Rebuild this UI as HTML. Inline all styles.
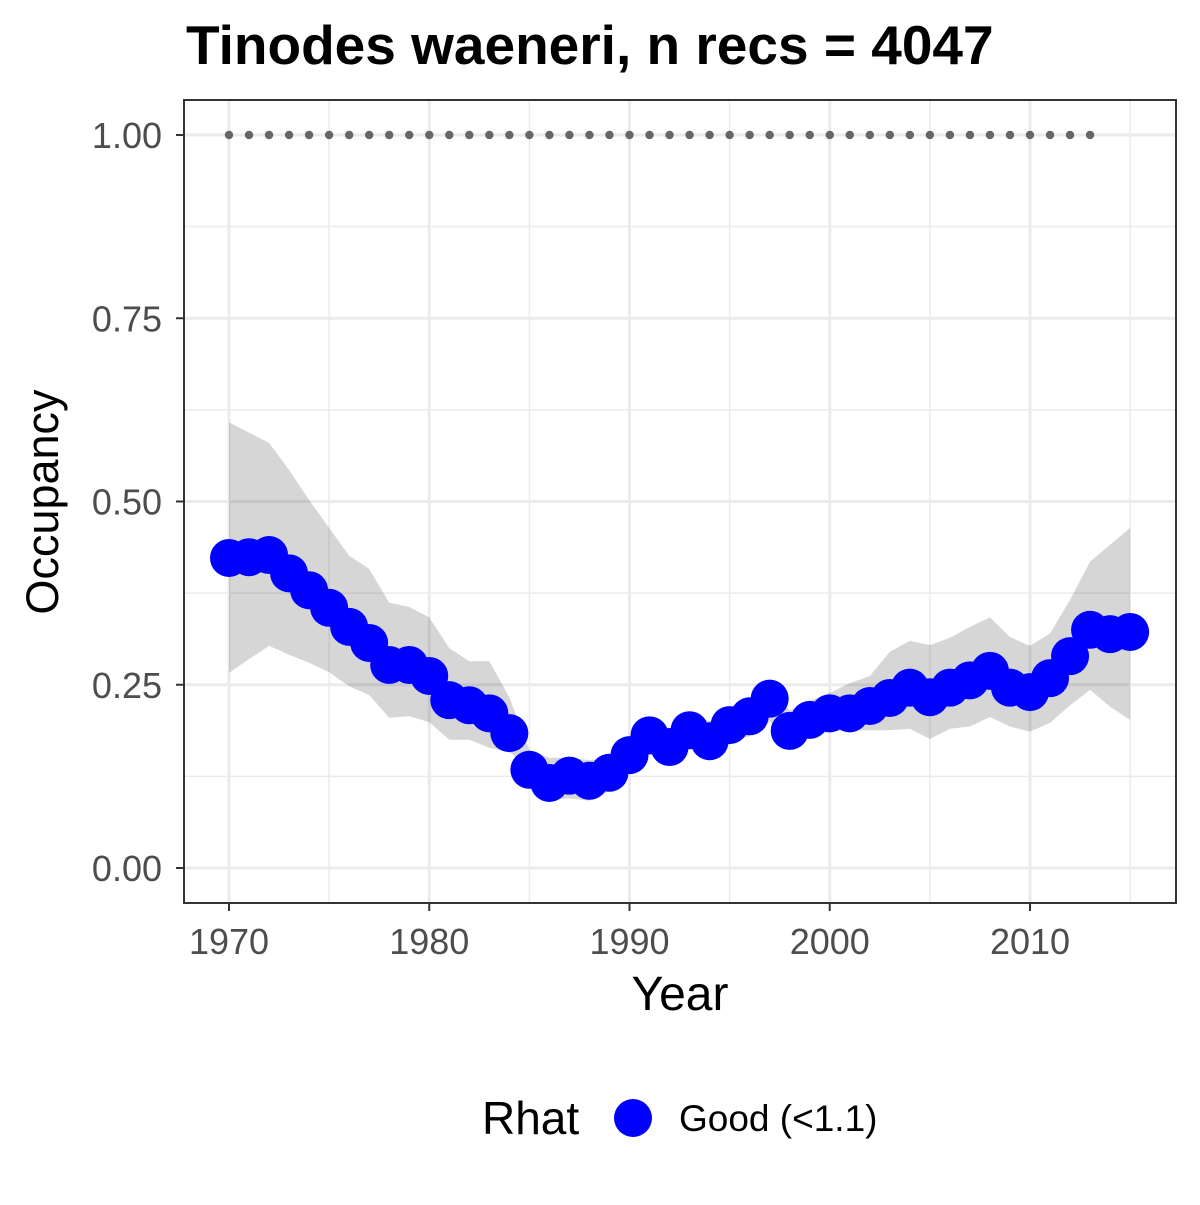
<!DOCTYPE html>
<html><head><meta charset="utf-8"><style>
body{margin:0;background:#fff}
svg text{font-family:"Liberation Sans",Arial,sans-serif}
</style></head><body>
<svg id="chart" width="1200" height="1200" viewBox="0 0 1200 1200" xmlns="http://www.w3.org/2000/svg">
<rect width="1200" height="1200" fill="#fff"/>
<text x="186" y="64" font-size="55" font-weight="bold" fill="#000">Tinodes waeneri, n recs = 4047</text>
<g id="grid"></g>
<g id="band"></g>
<g id="dots"></g>
<g id="points"></g>
<rect x="184" y="100" width="992" height="803" fill="none" stroke="#333" stroke-width="2"/>
<g id="axes"></g>
<text x="680" y="1010" font-size="48" text-anchor="middle" fill="#000">Year</text>
<text transform="translate(58,502) rotate(-90)" font-size="45" text-anchor="middle" fill="#000">Occupancy</text>
<g>
<text x="482" y="1134" font-size="46" fill="#000">Rhat</text>
<circle cx="633" cy="1118" r="19" fill="#0000ff"/>
<text x="679" y="1131" font-size="37" fill="#000">Good (&lt;1.1)</text>
</g>
</svg>
<script>
const years=[1970,1971,1972,1973,1974,1975,1976,1977,1978,1979,1980,1981,1982,1983,1984,1985,1986,1987,1988,1989,1990,1991,1992,1993,1994,1995,1996,1997,1998,1999,2000,2001,2002,2003,2004,2005,2006,2007,2008,2009,2010,2011,2012,2013,2014,2015];
const occupancy=[0.423,0.424,0.427,0.402,0.379,0.355,0.329,0.307,0.277,0.277,0.262,0.229,0.222,0.211,0.184,0.134,0.116,0.126,0.119,0.130,0.154,0.181,0.165,0.188,0.173,0.195,0.207,0.231,0.187,0.202,0.211,0.211,0.221,0.232,0.246,0.233,0.246,0.256,0.269,0.246,0.240,0.259,0.289,0.325,0.319,0.322];
const upper=[0.608,0.594,0.580,0.543,0.502,0.464,0.426,0.408,0.362,0.356,0.342,0.300,0.282,0.282,0.233,0.161,0.150,0.151,0.147,0.150,0.170,0.200,0.190,0.210,0.200,0.215,0.225,0.245,0.215,0.228,0.239,0.252,0.262,0.295,0.310,0.304,0.314,0.329,0.342,0.315,0.303,0.320,0.366,0.418,0.441,0.464];
const lower=[0.266,0.285,0.303,0.291,0.280,0.267,0.248,0.236,0.205,0.207,0.199,0.175,0.175,0.164,0.158,0.136,0.093,0.095,0.092,0.105,0.130,0.155,0.145,0.165,0.150,0.170,0.180,0.200,0.170,0.180,0.186,0.188,0.188,0.188,0.190,0.176,0.190,0.193,0.206,0.193,0.186,0.198,0.222,0.243,0.220,0.202];
const dotYears=[1970,1971,1972,1973,1974,1975,1976,1977,1978,1979,1980,1981,1982,1983,1984,1985,1986,1987,1988,1989,1990,1991,1992,1993,1994,1995,1996,1997,1998,1999,2000,2001,2002,2003,2004,2005,2006,2007,2008,2009,2010,2011,2012,2013];
const dotValue=1.0;
const xTicks=[1970,1980,1990,2000,2010];
const xMinor=[1975,1985,1995,2005,2015];
const yTicks=[0,0.25,0.5,0.75,1.0];
const yTickLabels=["0.00","0.25","0.50","0.75","1.00"];
const yMinor=[0.125,0.375,0.625,0.875];

const NS="http://www.w3.org/2000/svg";
const X=v=>229+(v-1970)*20.025;
const Y=v=>868-v*733;
function mk(tag,attrs,parent){const e=document.createElementNS(NS,tag);for(const k in attrs)e.setAttribute(k,attrs[k]);parent.appendChild(e);return e;}
const grid=document.getElementById('grid');
yMinor.forEach(v=>{const l=mk('line',{x1:184,x2:1176,y1:Y(v),y2:Y(v),stroke:'#ebebeb','stroke-width':1.5},grid);

});
xMinor.forEach(v=>{const l=mk('line',{x1:X(v),x2:X(v),y1:100,y2:903,stroke:'#ebebeb','stroke-width':1.5},grid);

});
yTicks.forEach(v=>{const l=mk('line',{x1:184,x2:1176,y1:Y(v),y2:Y(v),stroke:'#ebebeb','stroke-width':3},grid);

});
xTicks.forEach(v=>{const l=mk('line',{x1:X(v),x2:X(v),y1:100,y2:903,stroke:'#ebebeb','stroke-width':3},grid);

});
let d='M'+years.map((y,i)=>X(y)+','+Y(upper[i])).join('L');
for(let i=years.length-1;i>=0;i--)d+='L'+X(years[i])+','+Y(lower[i]);
const band=mk('path',{d:d+'Z',fill:'#333','fill-opacity':0.2},document.getElementById('band'));


const dots=document.getElementById('dots');
dotYears.forEach(y=>{const c=mk('circle',{cx:X(y),cy:Y(dotValue),r:4.2,fill:'#666'},dots);

});
const pts=document.getElementById('points');
years.forEach((y,i)=>{const c=mk('circle',{cx:X(y),cy:Y(occupancy[i]),r:19,fill:'#0000ff'},pts);

});
const ax=document.getElementById('axes');
yTicks.forEach((v,i)=>{const l=mk('line',{x1:176,x2:184,y1:Y(v),y2:Y(v),stroke:'#333','stroke-width':2},ax);


const t=mk('text',{x:162,y:Y(v)+13,'font-size':36,'text-anchor':'end',fill:'#4d4d4d'},ax);t.textContent=yTickLabels[i];

});
xTicks.forEach(v=>{const l=mk('line',{x1:X(v),x2:X(v),y1:903,y2:911,stroke:'#333','stroke-width':2},ax);


const t=mk('text',{x:X(v),y:954,'font-size':36,'text-anchor':'middle',fill:'#4d4d4d'},ax);t.textContent=v;

});
</script>
</body></html>
